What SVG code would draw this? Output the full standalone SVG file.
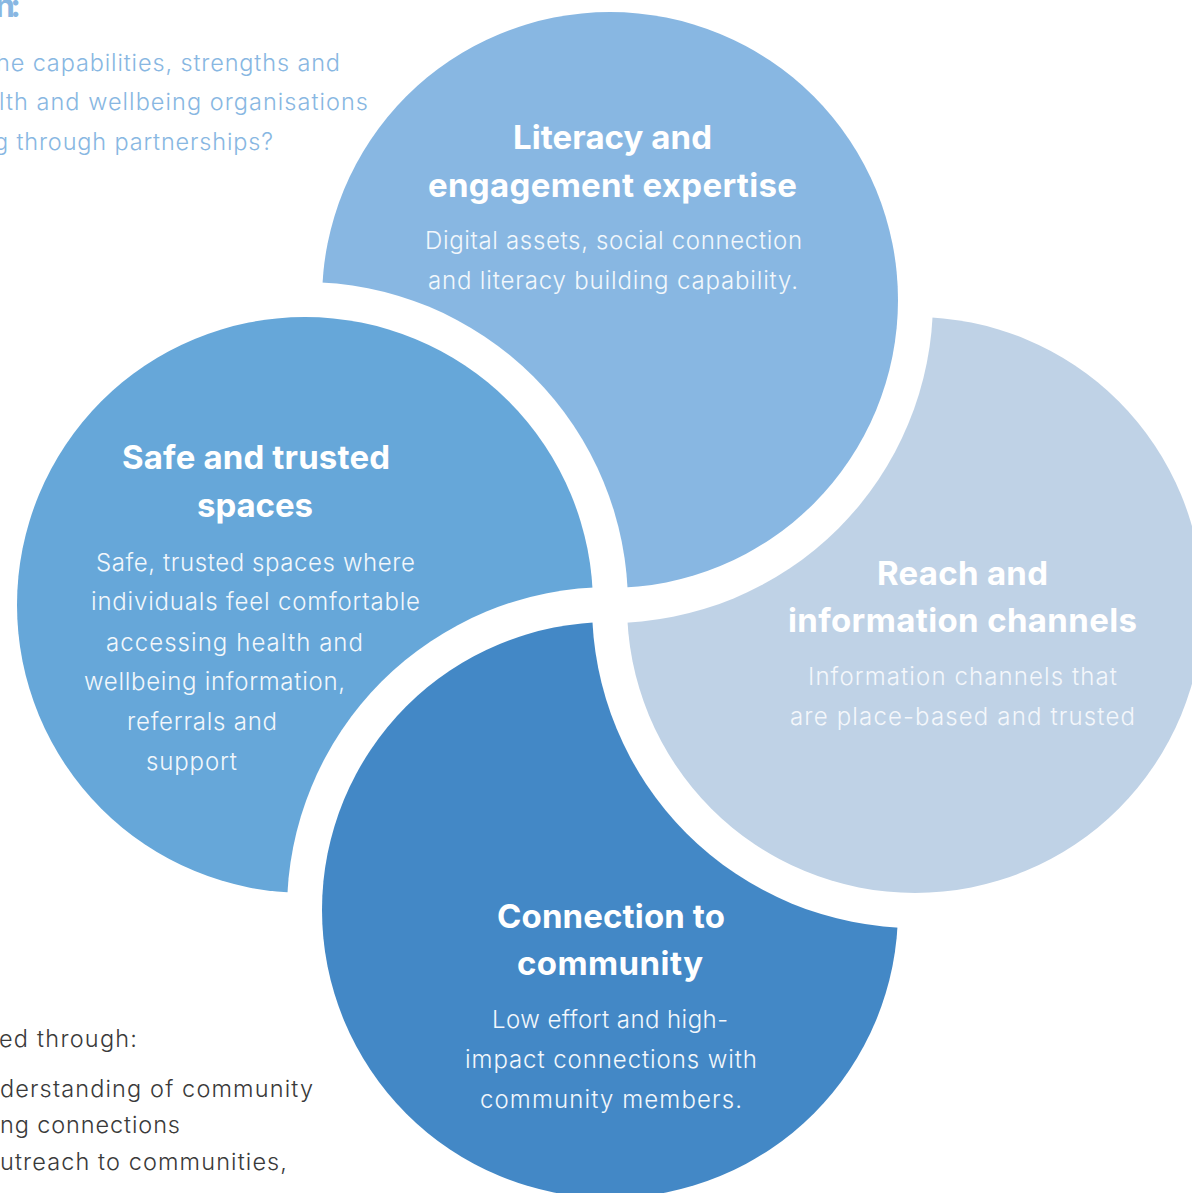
<svg xmlns="http://www.w3.org/2000/svg" width="1192" height="1193" viewBox="0 0 1192 1193">
<style>
.t{font-family:Inter,"Noto Sans","Liberation Sans",sans-serif;font-weight:700;font-size:33px;fill:#ffffff;text-anchor:middle}
.b{font-family:Inter,"Noto Sans","Liberation Sans",sans-serif;font-weight:300;font-size:24px;fill:#F2F7FC;text-anchor:middle}
.q{font-family:Inter,"Noto Sans","Liberation Sans",sans-serif;font-weight:300;font-size:23.5px;fill:#88B7E2}
.d{font-family:Inter,"Noto Sans","Liberation Sans",sans-serif;font-weight:300;font-size:23.5px;fill:#3A3A3A}
</style>
<defs>
<mask id="mTop" maskUnits="userSpaceOnUse" x="0" y="0" width="1192" height="1193"><rect width="1192" height="1193" fill="#fff"/><circle cx="305" cy="605" r="323" fill="#000"/></mask>
<mask id="mSafe" maskUnits="userSpaceOnUse" x="0" y="0" width="1192" height="1193"><rect width="1192" height="1193" fill="#fff"/><circle cx="610" cy="910" r="323" fill="#000"/></mask>
<mask id="mConn" maskUnits="userSpaceOnUse" x="0" y="0" width="1192" height="1193"><rect width="1192" height="1193" fill="#fff"/><circle cx="915" cy="605" r="323" fill="#000"/></mask>
<mask id="mReach" maskUnits="userSpaceOnUse" x="0" y="0" width="1192" height="1193"><rect width="1192" height="1193" fill="#fff"/><circle cx="610" cy="300" r="323" fill="#000"/></mask>
</defs>
<rect width="1192" height="1193" fill="#ffffff"/>

<g id="intro-text">
<text class="q" x="-5" y="17" style="font-weight:700;font-size:32px" textLength="26">n:</text>
<text class="q" x="-4" y="71" textLength="344">he capabilities, strengths and</text>
<text class="q" x="-1" y="110" textLength="369">lth and wellbeing organisations</text>
<text class="q" x="-6" y="150" textLength="279">g through partnerships?</text>
</g>

<g id="footer-text">
<text class="d" x="-1" y="1047" textLength="138">ed through:</text>
<text class="d" x="0" y="1097" textLength="313">derstanding of community</text>
<text class="d" x="0" y="1133" textLength="180">ng connections</text>
<text class="d" x="0" y="1170" textLength="287">utreach to communities,</text>
</g>

<g id="connectors"></g>

<g id="node-literacy">
<path mask="url(#mTop)" fill="#88B7E2" d="M322 300A288 288 0 0 1 610 12A288 288 0 0 1 898 300A288 288 0 0 1 610 588L322 588Z"/>
<text class="t" x="612.5" y="149" textLength="199">Literacy and</text>
<text class="t" x="612.5" y="197" textLength="369">engagement expertise</text>
<text class="b" x="613.5" y="249" textLength="377">Digital assets, social connection</text>
<text class="b" x="613" y="289" textLength="370">and literacy building capability.</text>
</g>

<g id="node-safe">
<path mask="url(#mSafe)" fill="#66A7D9" d="M17 605A288 288 0 0 1 305 317A288 288 0 0 1 593 605L593 893L305 893A288 288 0 0 1 17 605Z"/>
<text class="t" x="256" y="469" textLength="268">Safe and trusted</text>
<text class="t" x="255" y="517" textLength="116">spaces</text>
<text class="b" x="255.5" y="571" textLength="319">Safe, trusted spaces where</text>
<text class="b" x="255.5" y="610" textLength="329">individuals feel comfortable</text>
<text class="b" x="234.5" y="651" textLength="257">accessing health and</text>
<text class="b" x="214.5" y="690" textLength="261">wellbeing information,</text>
<text class="b" x="202" y="730" textLength="150">referrals and</text>
<text class="b" x="191.5" y="770" textLength="91">support</text>
</g>

<g id="node-connection">
<path mask="url(#mConn)" fill="#4388C6" d="M322 910A288 288 0 0 1 610 622L898 622L898 910A288 288 0 0 1 610 1198A288 288 0 0 1 322 910Z"/>
<text class="t" x="611" y="928" textLength="228">Connection to</text>
<text class="t" x="610" y="975" textLength="186">community</text>
<text class="b" x="610" y="1028" textLength="236">Low effort and high-</text>
<text class="b" x="611" y="1068" textLength="292">impact connections with</text>
<text class="b" x="611" y="1108" textLength="262">community members.</text>
</g>

<g id="node-reach">
<path mask="url(#mReach)" fill="#BFD2E6" d="M627 605L627 317L915 317A288 288 0 0 1 1203 605A288 288 0 0 1 915 893A288 288 0 0 1 627 605Z"/>
<text class="t" x="962.5" y="585" textLength="171">Reach and</text>
<text class="t" x="962.5" y="632" textLength="349">information channels</text>
<text class="b" x="962.5" y="685" textLength="309" style="fill:#F4F7FB">Information channels that</text>
<text class="b" x="962.5" y="725" textLength="345" style="fill:#F4F7FB">are place-based and trusted</text>
</g>
</svg>
